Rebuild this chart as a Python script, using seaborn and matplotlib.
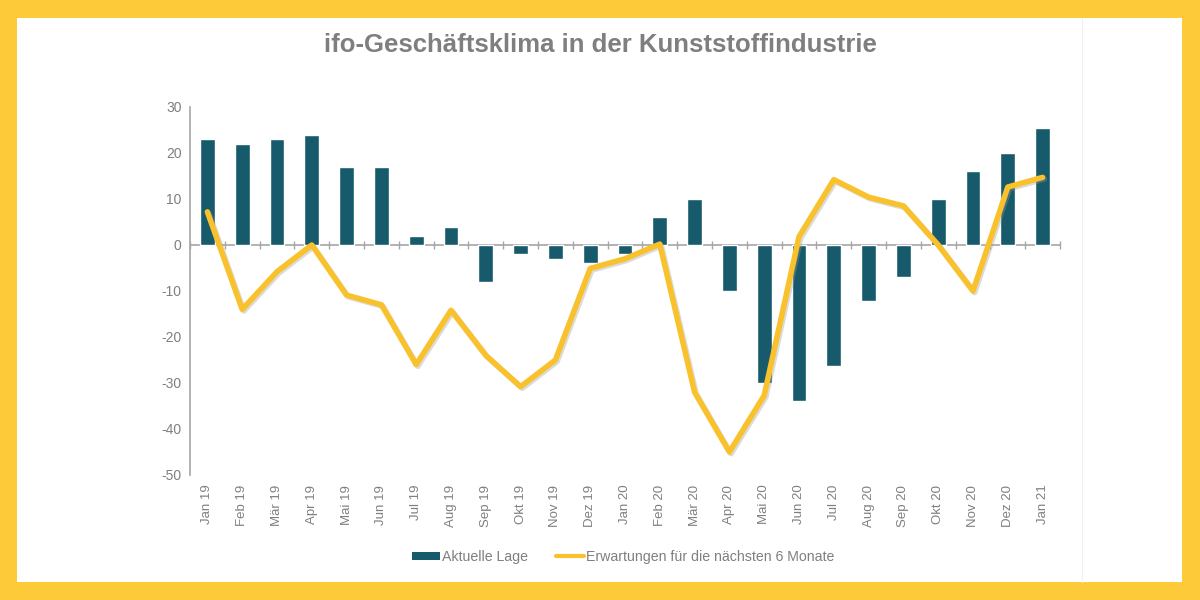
import numpy as np
import pandas as pd
import matplotlib
matplotlib.use("Agg")
import matplotlib.pyplot as plt
import matplotlib.patheffects as pe
from matplotlib.patches import Rectangle
from matplotlib.lines import Line2D
import seaborn as sns

# ---- data ----
months = ["Jan 19", "Feb 19", "Mär 19", "Apr 19", "Mai 19", "Jun 19", "Jul 19", "Aug 19",
          "Sep 19", "Okt 19", "Nov 19", "Dez 19", "Jan 20", "Feb 20", "Mär 20", "Apr 20",
          "Mai 20", "Jun 20", "Jul 20", "Aug 20", "Sep 20", "Okt 20", "Nov 20", "Dez 20", "Jan 21"]
aktuelle_lage = [23, 22, 23, 24, 17, 17, 2, 4, -8, -2, -3, -4, -2, 6, 10, -10,
                 -30, -34, -26.4, -12.2, -7, 10, 16, 20, 25.5]
erwartungen = [7.2, -14, -5.8, 0, -10.9, -13, -26, -14.2, -24, -30.8, -25, -5.1, -3, 0.2,
               -32, -45, -32.7, 1.8, 14.2, 10.4, 8.5, 0, -10, 12.6, 14.7]
title = "ifo-Geschäftsklima in der Kunststoffindustrie"
label_bar = "Aktuelle Lage"
label_line = "Erwartungen für die nächsten 6 Monate"
yticks = [30, 20, 10, 0, -10, -20, -30, -40, -50]

df = pd.DataFrame({"Monat": months, "Lage": aktuelle_lage, "Erw": erwartungen})
df["pos"] = np.arange(len(df))

TEAL = "#175a6b"
YEL = "#f9c12c"
BORDER = "#fdca3a"
GREY = "#a6a6a6"
TXT = "#7f7f7f"

sns.set_theme(style="white")
plt.rcParams["font.family"] = ["Liberation Sans", "DejaVu Sans"]
plt.rcParams["axes.unicode_minus"] = False

fig = plt.figure(figsize=(12, 6), dpi=100)
fig.patch.set_facecolor(BORDER)
fig.patches.append(Rectangle((17 / 1200, 18 / 600), (1182 - 17) / 1200, (582 - 18) / 600,
                             transform=fig.transFigure, facecolor="white", edgecolor="none", zorder=-10))
fig.lines.append(Line2D([1082 / 1200, 1082 / 1200], [18 / 600, 582 / 600],
                        transform=fig.transFigure, color="#f0f0f0", lw=0.8, zorder=-5))

ax = fig.add_axes([190 / 1200, 1 - 475 / 600, 870 / 1200, 368 / 600])
ax.set_facecolor("none")

sns.barplot(data=df, x="Monat", y="Lage", color=TEAL, width=0.42, saturation=1,
            ax=ax, label=label_bar, zorder=2)
sns.lineplot(data=df, x="pos", y="Erw", color=YEL, lw=4, ax=ax, label=label_line,
             zorder=3, path_effects=[pe.SimpleLineShadow(offset=(1.2, -1.2), shadow_color="#999999", alpha=0.35),
                                     pe.Normal()])

ax.set_xlim(-0.5, len(months) - 0.5)
ax.set_ylim(-50, 30)
ax.set_xlabel("")
ax.set_ylabel("")
if ax.legend_:
    ax.legend_.remove()

for s in ["top", "right", "bottom"]:
    ax.spines[s].set_visible(False)
ax.spines["left"].set_color(GREY)
ax.spines["left"].set_linewidth(1.2)

ax.set_yticks(yticks)
ax.tick_params(axis="y", direction="inout", length=6, width=1, color=GREY,
               labelcolor=TXT, labelsize=10, pad=3)
ax.set_xticks(np.arange(len(months)))
ax.set_xticklabels(months, rotation=90)
ax.tick_params(axis="x", length=0, labelcolor=TXT, labelsize=9.5, pad=7)

# zero line with category-boundary ticks
ax.axhline(0, color=GREY, lw=1.2, zorder=1)
sec = ax.secondary_xaxis(50 / 80)
sec.set_xticks(np.arange(len(months) + 1) - 0.5)
sec.set_xticklabels([])
sec.spines["bottom"].set_visible(False)
sec.spines["top"].set_visible(False)
sec.tick_params(axis="x", direction="inout", length=6, width=1, color=GREY, top=False, bottom=True)

fig.text(0.5, 1 - 45 / 600, title, ha="center", va="center", fontsize=18.5,
         fontweight="bold", color=TXT)

handles = [Rectangle((0, 0), 1, 1, facecolor=TEAL, edgecolor="none"),
           Line2D([0], [0], color=YEL, lw=3)]
fig.legend(handles, [label_bar, label_line], loc="center", bbox_to_anchor=(623 / 1200, 1 - 557 / 600),
           ncol=2, frameon=False, fontsize=10.2, labelcolor=TXT, handlelength=2.0,
           handleheight=0.5, handletextpad=0.1, columnspacing=2.0)

fig.savefig("out.png", dpi=100, facecolor=fig.get_facecolor())
